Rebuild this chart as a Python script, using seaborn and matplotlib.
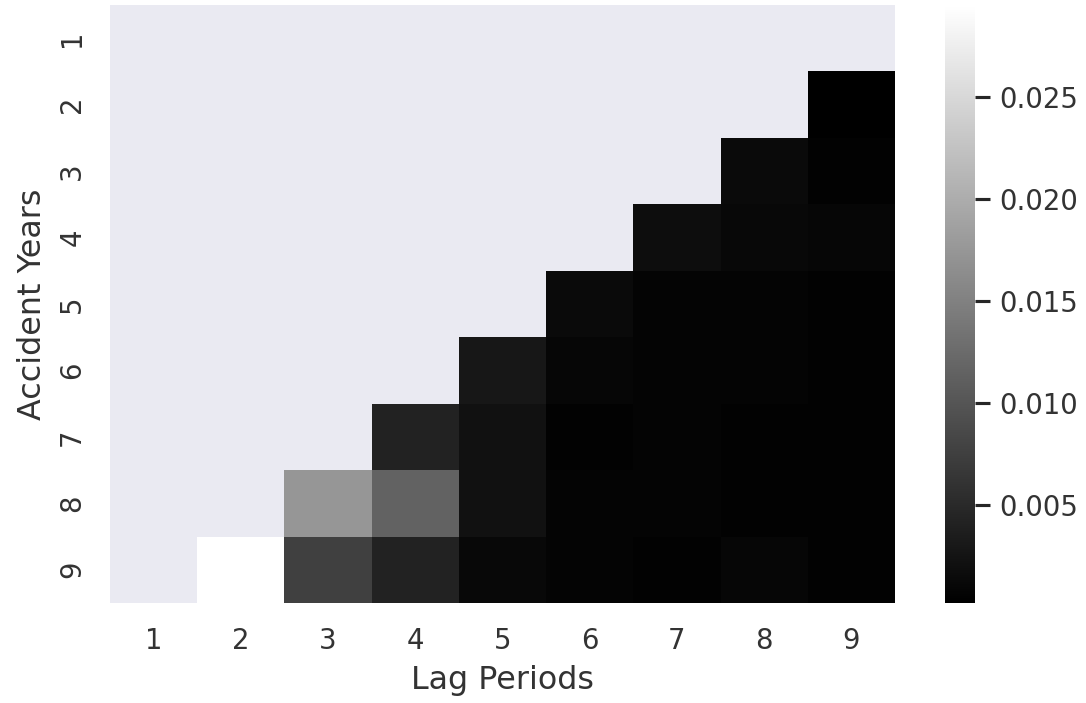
import numpy as np
import pandas as pd
import seaborn as sns
import matplotlib.pyplot as plt

accident_years = [1, 2, 3, 4, 5, 6, 7, 8, 9]
lag_periods = [1, 2, 3, 4, 5, 6, 7, 8, 9]

# values by row (accident year), starting at the first non-missing lag
row_start = [None, 9, 8, 7, 6, 5, 4, 3, 2]
row_values = [
    [],
    [0.00020],
    [0.00135, 0.00043],
    [0.00169, 0.00112, 0.00100],
    [0.00135, 0.00066, 0.00066, 0.00043],
    [0.00284, 0.00100, 0.00077, 0.00077, 0.00054],
    [0.00411, 0.00215, 0.00054, 0.00066, 0.00054, 0.00043],
    [0.01744, 0.01146, 0.00215, 0.00077, 0.00066, 0.00043, 0.00043],
    [0.02950, 0.00755, 0.00411, 0.00123, 0.00077, 0.00054, 0.00089, 0.00054],
]

grid = np.full((len(accident_years), len(lag_periods)), np.nan)
for i, (start, vals) in enumerate(zip(row_start, row_values)):
    if start is None:
        continue
    for j, v in enumerate(vals):
        grid[i, start - 1 + j] = v

df = pd.DataFrame(grid, index=accident_years, columns=lag_periods)

sns.set_theme(style="darkgrid")
fig = plt.figure(figsize=(1086 / 180, 703 / 180), dpi=180)
ax = fig.add_axes([110 / 1086, 1 - 603 / 703, 785 / 1086, 598 / 703])
cax = fig.add_axes([945 / 1086, 1 - 603 / 703, 30 / 1086, 598 / 703])

sns.heatmap(df, cmap="gray", ax=ax, cbar_ax=cax)
ax.grid(False)
ax.set_xlabel("Lag Periods", fontsize=12.7, color="#333333")
ax.set_ylabel("Accident Years", fontsize=12.7, color="#333333")
ax.tick_params(colors="#333333")
cax.tick_params(labelcolor="#333333")

fig.savefig("out.png", dpi=180)
